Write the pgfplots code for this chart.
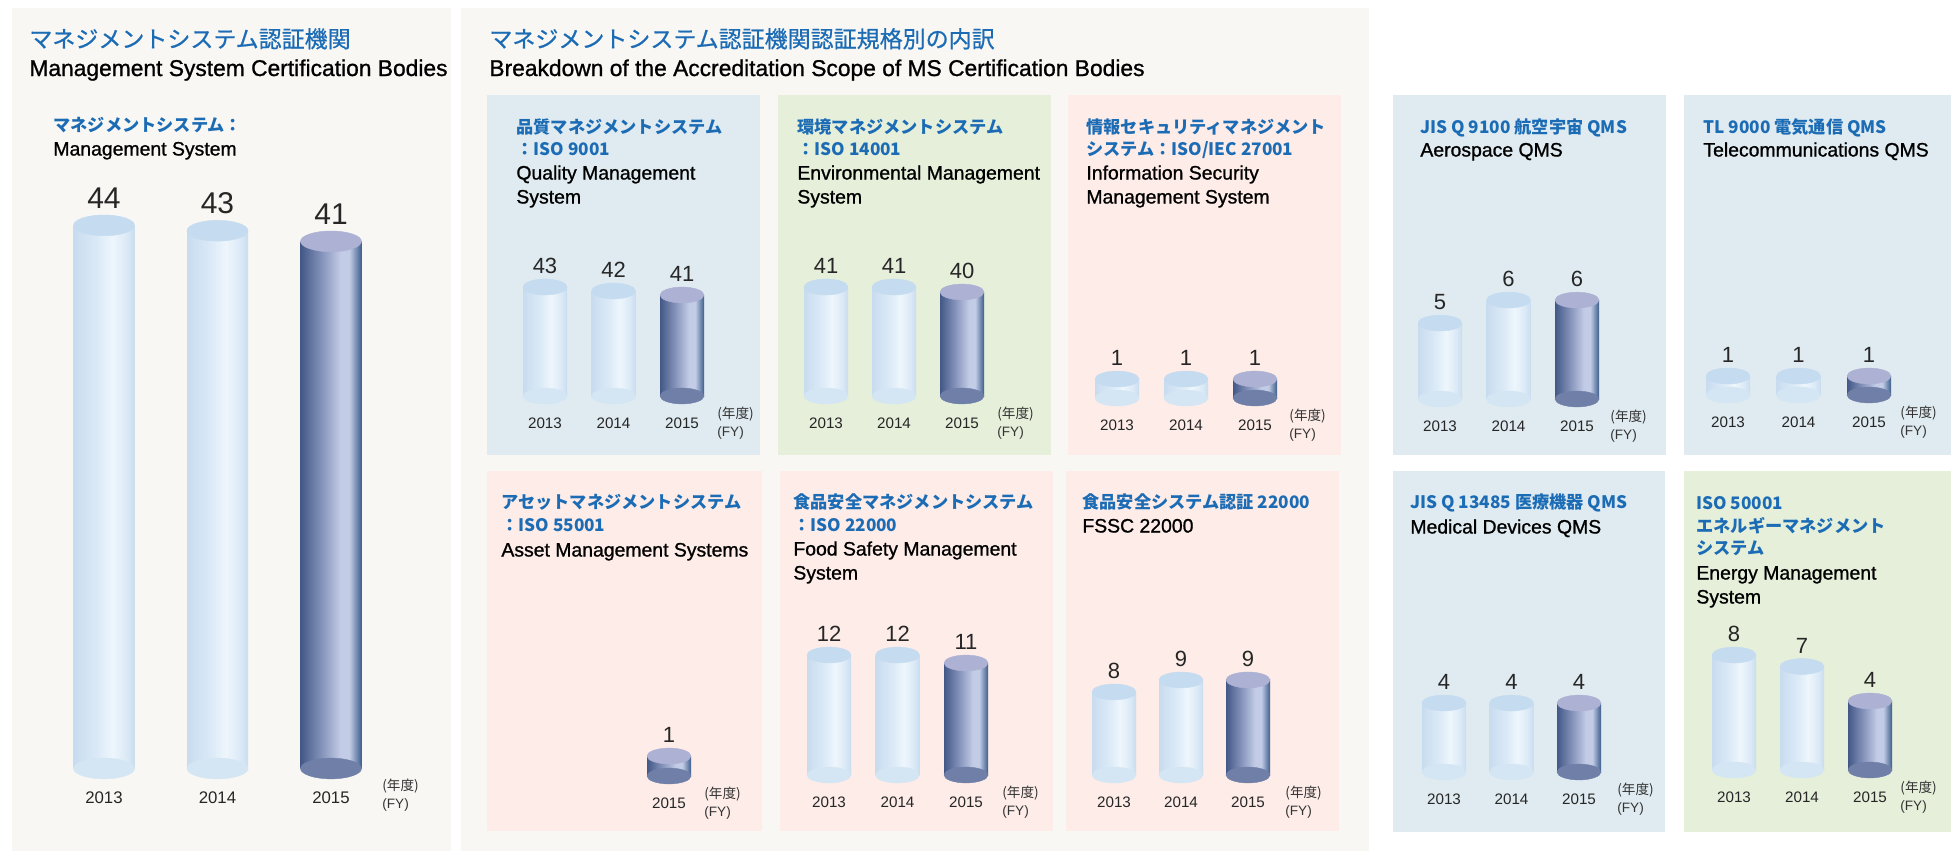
\documentclass[border=0pt]{standalone}
\usepackage{pgfplots}
\pgfplotsset{compat=1.18}
\usepackage{fontspec}
\setmainfont{Liberation Sans}
\newfontfamily\cjk{Noto Sans CJK JP}
\newfontfamily\cjkm{Noto Sans CJK JP}[FakeBold=0.7]
\newfontfamily\enm{Liberation Sans}[FakeBold=1.0]
\definecolor{beige}{HTML}{F8F7F3}
\definecolor{pblue}{HTML}{DFEBF0}
\definecolor{pgreen}{HTML}{E5EFDA}
\definecolor{ppink}{HTML}{FDECE8}
\definecolor{tblue}{HTML}{1B6BB5}
\definecolor{lA}{HTML}{C8DCEF}
\definecolor{lB}{HTML}{DCEAF7}
\definecolor{lC}{HTML}{EEF6FC}
\definecolor{lD}{HTML}{C9DDEF}
\definecolor{ltop}{HTML}{C4DBF0}
\definecolor{lbot}{HTML}{D4E6F4}
\definecolor{dA}{HTML}{435887}
\definecolor{dB}{HTML}{8492BA}
\definecolor{dC}{HTML}{C3CCE6}
\definecolor{dD}{HTML}{3D5F8C}
\definecolor{dtop}{HTML}{ADB1D3}
\definecolor{dbot}{HTML}{6F7FA8}
\pgfdeclarehorizontalshading{lcyl}{100bp}{color(0bp)=(lA); color(25bp)=(lA); color(45bp)=(lB); color(57bp)=(lC); color(68bp)=(lB); color(75bp)=(lD); color(100bp)=(lD)}
\pgfdeclarehorizontalshading{dcyl}{100bp}{color(0bp)=(dA); color(25bp)=(dA); color(42bp)=(dB); color(58bp)=(dC); color(65bp)=(dC); color(75bp)=(dD); color(100bp)=(dD)}
\newcommand\valfont{\fontsize{11}{12}\selectfont}
\newcommand\bigvalfont{\fontsize{15}{16}\selectfont}
\newcommand\fyj{\cjk\fontsize{6.8}{7}\selectfont}
\newcommand\fye{\fontsize{6.8}{7}\selectfont}
\newcommand\jt{\cjk\bfseries\fontsize{8.6}{9}\selectfont\color{tblue}}
\newcommand\et{\enm\fontsize{9.7}{10}\selectfont}
\pgfplotsset{
  cyl/.style={
    clip=false, enlargelimits=false,
    axis line style={draw=none}, major tick length=0pt,
    ytick=\empty, xtick={0,1,2}, xticklabels={2013,2014,2015},
    xmin=-0.5, xmax=2.5, anchor=south west,
    xticklabel style={font=\fontsize{7.6}{9}\selectfont, anchor=base, yshift=-16.3pt, inner sep=0pt, text=black!85},
    y coord trafo/.code={\pgfmathparse{##1-(\vz)}},
    y coord inv trafo/.code={\pgfmathparse{##1+(\vz)}},
    /pgf/number format/assume math mode=true,
  },
  lbar/.style={ybar, bar width=\bw, bar shift=0pt, draw=none, shade, shading=lcyl},
  dbar/.style={ybar, bar width=\bw, bar shift=0pt, draw=none, shade, shading=dcyl},
  lbot/.style={only marks, mark=*, mark size=\ms, mark options={yscale=\ys, fill=lbot, draw=lbot, line width=0.2pt}},
  dbot/.style={only marks, mark=*, mark size=\ms, mark options={yscale=\ys, fill=dbot, draw=dbot, line width=0.2pt}},
  ltop/.style={only marks, mark=*, mark size=\ms, mark options={yscale=\ys, fill=ltop, draw=ltop, line width=0.2pt},
    point meta=rawy, nodes near coords, nodes near coords style={font=\vf, anchor=base, yshift=\ly, inner sep=0pt, text=black!85}},
  dtop/.style={only marks, mark=*, mark size=\ms, mark options={yscale=\ys, fill=dtop, draw=dtop, line width=0.2pt},
    point meta=rawy, nodes near coords, nodes near coords style={font=\vf, anchor=base, yshift=\ly, inner sep=0pt, text=black!85}},
}
\newcommand\fy[1]{%
  \node[anchor=base west, font=\fyj, inner sep=0pt, xshift=#1, yshift=-11pt, text=black!80] at (rel axis cs:0.8333,0) {(年度)};
  \node[anchor=base west, font=\fye, inner sep=0pt, xshift=#1, yshift=-20pt, text=black!80] at (rel axis cs:0.8333,0) {(FY)};}
\begin{document}
\begin{tikzpicture}
\useasboundingbox (0,0) rectangle (975.5pt,-425.5pt);
\fill[white] (0,0) rectangle (975.5pt,-425.5pt);
\begin{scope}[x=0.5pt,y=-0.5pt]
\fill[beige] (12,8) rectangle (451,851);
\fill[beige] (461,8) rectangle (1369,851);
\fill[pblue] (487,95) rectangle (760,455);
\fill[pgreen] (778,95) rectangle (1051,455);
\fill[ppink] (1068,95) rectangle (1341,455);
\fill[ppink] (487,471) rectangle (762,831);
\fill[ppink] (780,471) rectangle (1053,831);
\fill[ppink] (1066,471) rectangle (1339,831);
\fill[pblue] (1393,95) rectangle (1666,455);
\fill[pblue] (1684,95) rectangle (1951,455);
\fill[pblue] (1393,471) rectangle (1665,832);
\fill[pgreen] (1684,471) rectangle (1951,832);
\tikzset{every node/.style={anchor=base west, inner sep=0pt}}
% main titles
\node[font=\cjkm\fontsize{11.5}{12}\selectfont, text=tblue] at (29,47.5) {マネジメントシステム認証機関};
\node[font=\enm\fontsize{11.4}{12}\selectfont] at (29,76) {Management System Certification Bodies};
\node[font=\jt] at (53,131.5) {マネジメントシステム：};
\node[font=\et] at (53,155.5) {Management System};
\node[font=\cjkm\fontsize{11.5}{12}\selectfont, text=tblue] at (489,47.5) {マネジメントシステム認証機関認証規格別の内訳};
\node[font=\enm\fontsize{11.4}{12}\selectfont] at (489,76) {Breakdown of the Accreditation Scope of MS Certification Bodies};
% ISO 9001
\node[font=\jt] at (516,133.5) {品質マネジメントシステム};
\node[font=\jt] at (516,155.5) {：ISO 9001};
\node[font=\et] at (516,179.5) {Quality Management};
\node[font=\et] at (516,203.5) {System};
% ISO 14001
\node[font=\jt] at (797,133.5) {環境マネジメントシステム};
\node[font=\jt] at (797,155.5) {：ISO 14001};
\node[font=\et] at (797,179.5) {Environmental Management};
\node[font=\et] at (797,203.5) {System};
% ISMS
\node[font=\jt] at (1086,133.5) {情報セキュリティマネジメント};
\node[font=\jt] at (1086,155.5) {システム：ISO/IEC 27001};
\node[font=\et] at (1086,179.5) {Information Security};
\node[font=\et] at (1086,203.5) {Management System};
% Aerospace
\node[font=\jt] at (1420,133.5) {JIS Q 9100 航空宇宙 QMS};
\node[font=\et] at (1420,156.5) {Aerospace QMS};
% Telecom
\node[font=\jt] at (1703,133.5) {TL 9000 電気通信 QMS};
\node[font=\et] at (1703,156.5) {Telecommunications QMS};
% Asset
\node[font=\jt] at (501,508.5) {アセットマネジメントシステム};
\node[font=\jt] at (501,531.5) {：ISO 55001};
\node[font=\et] at (501,556.5) {Asset Management Systems};
% Food
\node[font=\jt] at (793,508.5) {食品安全マネジメントシステム};
\node[font=\jt] at (793,531.5) {：ISO 22000};
\node[font=\et] at (793,555.5) {Food Safety Management};
\node[font=\et] at (793,579.5) {System};
% FSSC
\node[font=\jt] at (1082,508.5) {食品安全システム認証 22000};
\node[font=\et] at (1082,532.5) {FSSC 22000};
% Medical
\node[font=\jt] at (1410,508.5) {JIS Q 13485 医療機器 QMS};
\node[font=\et] at (1410,533.5) {Medical Devices QMS};
% Energy
\node[font=\jt] at (1696,509.5) {ISO 50001};
\node[font=\jt] at (1696,532.5) {エネルギーマネジメント};
\node[font=\jt] at (1696,554.5) {システム};
\node[font=\et] at (1696,579.5) {Energy Management};
\node[font=\et] at (1696,603.5) {System};
\end{scope}

% ---------- Big panel ----------
\def\vz{-57.9}\def\bw{30.5pt}\def\ms{15.25pt}\def\ys{0.34}\def\ly{8.5pt}\def\vf{\bigvalfont}
\begin{axis}[cyl, at={(23.625pt,-384.25pt)}, x=56.75pt, y=2.665pt, ymin=-57.9, ymax=44,
  xticklabel style={font=\fontsize{8.4}{9}\selectfont, yshift=-1pt}]
\addplot[lbot] coordinates {(0,-57.9) (1,-57.9)};
\addplot[dbot] coordinates {(2,-57.9)};
\addplot[lbar] coordinates {(0,44)};
\addplot[lbar] coordinates {(1,43)};
\addplot[dbar] coordinates {(2,41)};
\addplot[ltop] coordinates {(0,44) (1,43)};
\addplot[dtop] coordinates {(2,41)};
\fy{25.5pt}
\end{axis}

% ---------- ISO 9001 ----------
\def\vz{15.75}\def\bw{22pt}\def\ms{11pt}\def\ys{0.36}\def\ly{6.7pt}\def\vf{\valfont}
\begin{axis}[cyl, at={(255.375pt,-198pt)}, x=34.25pt, y=2pt, ymin=15.75, ymax=43]
\addplot[lbot] coordinates {(0,15.75) (1,15.75)};
\addplot[dbot] coordinates {(2,15.75)};
\addplot[lbar] coordinates {(0,43)};
\addplot[lbar] coordinates {(1,42)};
\addplot[dbar] coordinates {(2,41)};
\addplot[ltop] coordinates {(0,43) (1,42)};
\addplot[dtop] coordinates {(2,41)};
\fy{17.5pt}
\end{axis}

% ---------- ISO 14001 ----------
\def\vz{19.2}
\begin{axis}[cyl, at={(396pt,-198pt)}, x=34pt, y=2.5pt, ymin=19.2, ymax=41]
\addplot[lbot] coordinates {(0,19.2) (1,19.2)};
\addplot[dbot] coordinates {(2,19.2)};
\addplot[lbar] coordinates {(0,41)};
\addplot[lbar] coordinates {(1,41)};
\addplot[dbar] coordinates {(2,40)};
\addplot[ltop] coordinates {(0,41) (1,41)};
\addplot[dtop] coordinates {(2,40)};
\fy{17.5pt}
\end{axis}

% ---------- ISMS ----------
\def\vz{0}
\begin{axis}[cyl, at={(541.25pt,-199pt)}, x=34.5pt, y=9.5pt, ymin=0, ymax=1]
\addplot[lbot] coordinates {(0,0) (1,0)};
\addplot[dbot] coordinates {(2,0)};
\addplot[lbar] coordinates {(0,1)};
\addplot[lbar] coordinates {(1,1)};
\addplot[dbar] coordinates {(2,1)};
\addplot[ltop] coordinates {(0,1) (1,1)};
\addplot[dtop] coordinates {(2,1)};
\fy{17pt}
\end{axis}

% ---------- Asset ----------
\def\vz{0}
\begin{axis}[cyl, at={(248.875pt,-388pt)}, x=34.25pt, y=10pt, ymin=0, ymax=1, xtick={2}, xticklabels={2015}]
\addplot[dbot] coordinates {(2,0)};
\addplot[dbar] coordinates {(2,1)};
\addplot[dtop] coordinates {(2,1)};
\fy{17.5pt}
\end{axis}

% ---------- Food ----------
\def\vz{-3}
\begin{axis}[cyl, at={(397.375pt,-387.5pt)}, x=34.25pt, y=4pt, ymin=-3, ymax=12]
\addplot[lbot] coordinates {(0,-3) (1,-3)};
\addplot[dbot] coordinates {(2,-3)};
\addplot[lbar] coordinates {(0,12)};
\addplot[lbar] coordinates {(1,12)};
\addplot[dbar] coordinates {(2,11)};
\addplot[ltop] coordinates {(0,12) (1,12)};
\addplot[dtop] coordinates {(2,11)};
\fy{18pt}
\end{axis}

% ---------- FSSC ----------
\def\vz{1.08}
\begin{axis}[cyl, at={(540.25pt,-387.5pt)}, x=33.5pt, y=6pt, ymin=1.08, ymax=9]
\addplot[lbot] coordinates {(0,1.08) (1,1.08)};
\addplot[dbot] coordinates {(2,1.08)};
\addplot[lbar] coordinates {(0,8)};
\addplot[lbar] coordinates {(1,9)};
\addplot[dbar] coordinates {(2,9)};
\addplot[ltop] coordinates {(0,8) (1,9)};
\addplot[dtop] coordinates {(2,9)};
\fy{18.5pt}
\end{axis}

% ---------- Aerospace ----------
\def\vz{1.7}
\begin{axis}[cyl, at={(702.875pt,-199.5pt)}, x=34.25pt, y=11.5pt, ymin=1.7, ymax=6]
\addplot[lbot] coordinates {(0,1.7) (1,1.7)};
\addplot[dbot] coordinates {(2,1.7)};
\addplot[lbar] coordinates {(0,5)};
\addplot[lbar] coordinates {(1,6)};
\addplot[dbar] coordinates {(2,6)};
\addplot[ltop] coordinates {(0,5) (1,6)};
\addplot[dtop] coordinates {(2,6)};
\fy{16.5pt}
\end{axis}

% ---------- Telecom ----------
\def\vz{0}
\begin{axis}[cyl, at={(846.375pt,-197.5pt)}, x=35.25pt, y=9.5pt, ymin=0, ymax=1]
\addplot[lbot] coordinates {(0,0) (1,0)};
\addplot[dbot] coordinates {(2,0)};
\addplot[lbar] coordinates {(0,1)};
\addplot[lbar] coordinates {(1,1)};
\addplot[dbar] coordinates {(2,1)};
\addplot[ltop] coordinates {(0,1) (1,1)};
\addplot[dtop] coordinates {(2,1)};
\fy{15.5pt}
\end{axis}

% ---------- Medical ----------
\def\vz{0}
\begin{axis}[cyl, at={(705.125pt,-386pt)}, x=33.75pt, y=8.625pt, ymin=0, ymax=4]
\addplot[lbot] coordinates {(0,0) (1,0)};
\addplot[dbot] coordinates {(2,0)};
\addplot[lbar] coordinates {(0,4)};
\addplot[lbar] coordinates {(1,4)};
\addplot[dbar] coordinates {(2,4)};
\addplot[ltop] coordinates {(0,4) (1,4)};
\addplot[dtop] coordinates {(2,4)};
\fy{19pt}
\end{axis}

% ---------- Energy ----------
\def\vz{-2}
\begin{axis}[cyl, at={(850pt,-385pt)}, x=34pt, y=5.75pt, ymin=-2, ymax=8]
\addplot[lbot] coordinates {(0,-2) (1,-2)};
\addplot[dbot] coordinates {(2,-2)};
\addplot[lbar] coordinates {(0,8)};
\addplot[lbar] coordinates {(1,7)};
\addplot[dbar] coordinates {(2,4)};
\addplot[ltop] coordinates {(0,8) (1,7)};
\addplot[dtop] coordinates {(2,4)};
\fy{15pt}
\end{axis}
\end{tikzpicture}
\end{document}
